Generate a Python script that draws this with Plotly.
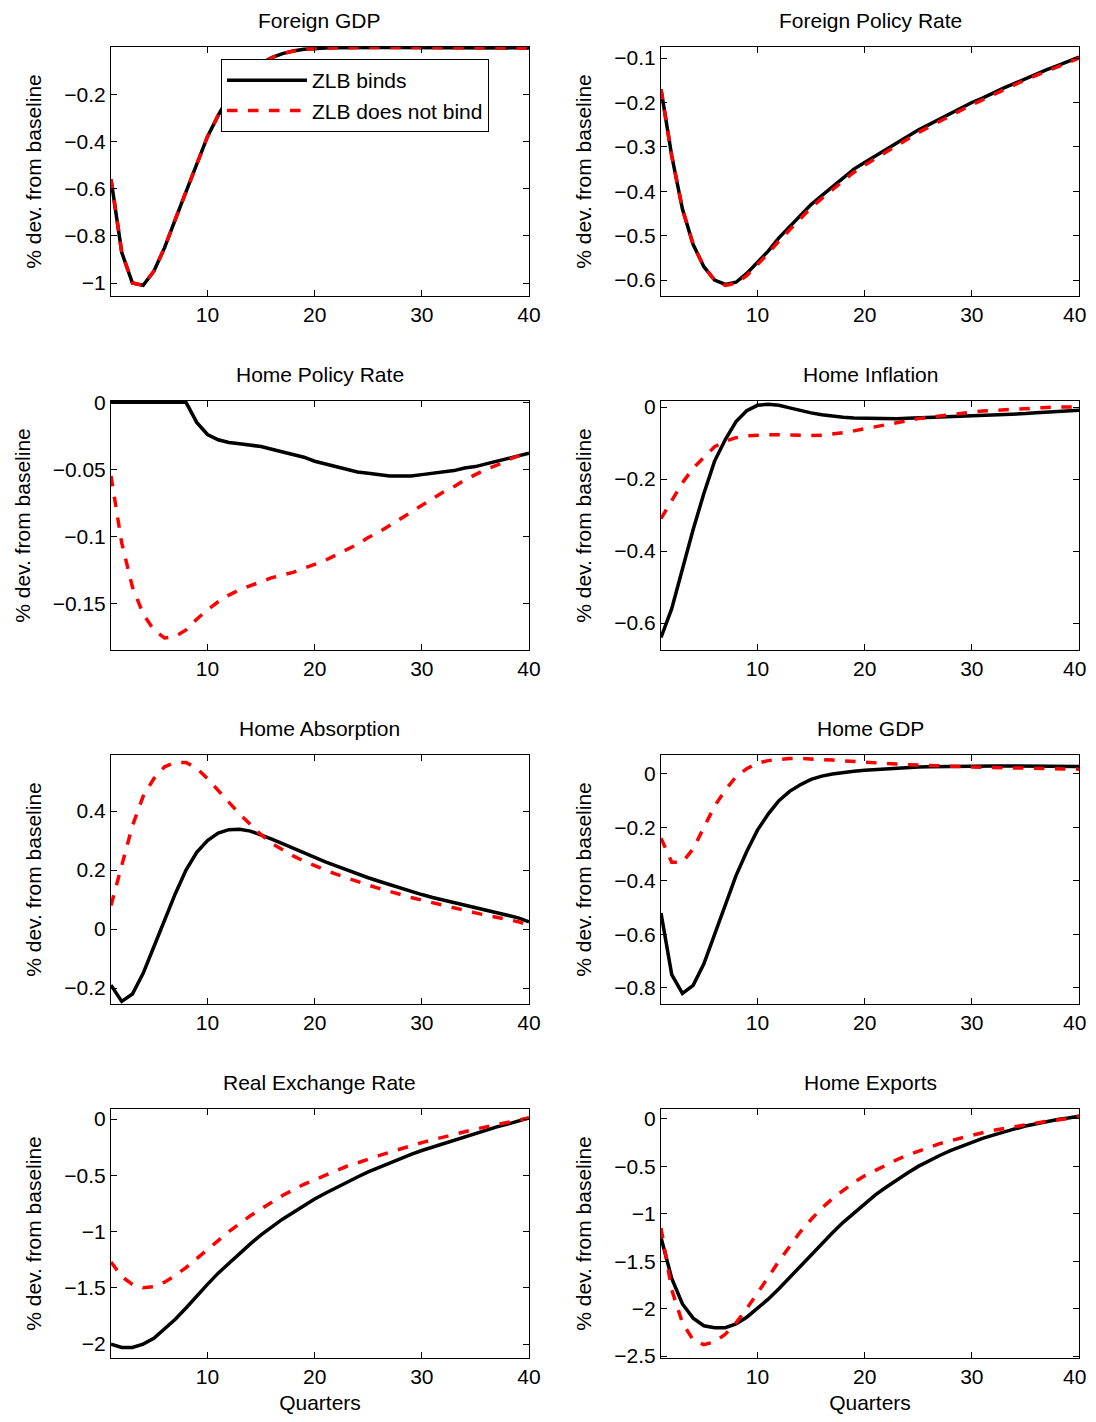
import plotly.graph_objects as go

q = list(range(1, 41))

fgdp_b = [-0.56,-0.87,-1.0,-1.01,-0.95,-0.85,-0.73,-0.61,-0.49,-0.38,-0.29,-0.21,-0.15,-0.10,-0.07,-0.045,-0.028,-0.017,-0.010,-0.006,
          -0.004,-0.003,-0.002,-0.002,-0.002,-0.002,-0.002,-0.002,-0.002,-0.002,-0.002,-0.002,-0.002,-0.003,-0.003,-0.003,-0.003,-0.004,-0.004,-0.004]
fgdp_r = fgdp_b[:]

fpr_b = [-0.17,-0.32,-0.44,-0.52,-0.57,-0.60,-0.61,-0.605,-0.585,-0.56,-0.535,-0.505,-0.48,-0.455,-0.43,-0.41,-0.39,-0.37,-0.35,-0.335,
         -0.32,-0.305,-0.29,-0.275,-0.262,-0.25,-0.237,-0.225,-0.213,-0.2,-0.19,-0.178,-0.167,-0.157,-0.146,-0.136,-0.126,-0.117,-0.108,-0.098]
fpr_r = [-0.17,-0.32,-0.44,-0.52,-0.57,-0.60,-0.612,-0.607,-0.59,-0.565,-0.54,-0.512,-0.487,-0.462,-0.437,-0.416,-0.396,-0.376,-0.357,-0.341,
         -0.326,-0.311,-0.296,-0.281,-0.268,-0.255,-0.242,-0.23,-0.218,-0.205,-0.194,-0.182,-0.171,-0.16,-0.149,-0.139,-0.129,-0.119,-0.11,-0.1]

hpr_b = [0,0,0,0,0,0,0,0,-0.015,-0.024,-0.028,-0.030,-0.031,-0.032,-0.033,-0.035,-0.037,-0.039,-0.041,-0.044,
         -0.046,-0.048,-0.050,-0.052,-0.053,-0.054,-0.055,-0.055,-0.055,-0.054,-0.053,-0.052,-0.051,-0.049,-0.048,-0.046,-0.044,-0.042,-0.040,-0.038]
hpr_r = [-0.055,-0.105,-0.138,-0.158,-0.170,-0.176,-0.175,-0.170,-0.162,-0.155,-0.149,-0.144,-0.140,-0.137,-0.134,-0.131,-0.129,-0.127,-0.124,-0.121,
         -0.118,-0.114,-0.110,-0.106,-0.101,-0.097,-0.092,-0.087,-0.082,-0.077,-0.072,-0.067,-0.063,-0.058,-0.054,-0.050,-0.047,-0.043,-0.040,-0.037]

hinf_b = [-0.64,-0.56,-0.45,-0.34,-0.24,-0.15,-0.09,-0.04,-0.01,0.005,0.008,0.005,-0.002,-0.01,-0.016,-0.021,-0.025,-0.028,-0.030,-0.031,
          -0.032,-0.032,-0.032,-0.031,-0.030,-0.029,-0.028,-0.027,-0.026,-0.025,-0.024,-0.022,-0.021,-0.019,-0.018,-0.016,-0.014,-0.012,-0.011,-0.009]
hinf_r = [-0.31,-0.26,-0.21,-0.17,-0.14,-0.11,-0.095,-0.085,-0.08,-0.078,-0.077,-0.077,-0.078,-0.079,-0.079,-0.078,-0.075,-0.071,-0.066,-0.060,
          -0.054,-0.048,-0.042,-0.037,-0.032,-0.028,-0.024,-0.020,-0.017,-0.014,-0.011,-0.009,-0.007,-0.005,-0.003,-0.002,-0.001,0,0.001,0.001]

habs_b = [-0.19,-0.245,-0.22,-0.15,-0.06,0.03,0.12,0.2,0.26,0.30,0.325,0.337,0.338,0.332,0.32,0.305,0.29,0.274,0.258,0.243,
          0.228,0.214,0.200,0.187,0.174,0.162,0.150,0.139,0.128,0.117,0.107,0.098,0.089,0.080,0.071,0.063,0.055,0.047,0.038,0.024]
habs_r = [0.08,0.22,0.35,0.45,0.51,0.55,0.565,0.565,0.545,0.51,0.47,0.43,0.39,0.355,0.32,0.29,0.268,0.248,0.23,0.214,
          0.20,0.186,0.173,0.161,0.149,0.138,0.127,0.117,0.107,0.098,0.089,0.080,0.071,0.063,0.055,0.047,0.040,0.032,0.025,0.012]

hgdp_b = [-0.52,-0.75,-0.82,-0.79,-0.71,-0.60,-0.49,-0.38,-0.29,-0.21,-0.15,-0.10,-0.065,-0.04,-0.02,-0.008,0.0,0.006,0.01,0.014,
          0.017,0.02,0.022,0.024,0.026,0.027,0.028,0.029,0.03,0.03,0.03,0.03,0.03,0.03,0.03,0.03,0.03,0.029,0.029,0.028]
hgdp_r = [-0.24,-0.33,-0.33,-0.28,-0.2,-0.12,-0.06,-0.01,0.02,0.04,0.05,0.055,0.058,0.058,0.057,0.055,0.052,0.049,0.046,0.043,
          0.041,0.039,0.037,0.035,0.033,0.031,0.029,0.028,0.027,0.026,0.025,0.024,0.023,0.022,0.021,0.021,0.02,0.019,0.019,0.018]

rer_b = [-2.0,-2.03,-2.03,-2.0,-1.95,-1.87,-1.78,-1.68,-1.57,-1.47,-1.37,-1.28,-1.19,-1.11,-1.03,-0.96,-0.89,-0.83,-0.77,-0.71,
         -0.66,-0.61,-0.56,-0.515,-0.47,-0.43,-0.39,-0.35,-0.315,-0.28,-0.25,-0.215,-0.185,-0.155,-0.125,-0.1,-0.07,-0.045,-0.02,0.01]
rer_r = [-1.27,-1.4,-1.47,-1.5,-1.49,-1.45,-1.39,-1.32,-1.24,-1.16,-1.08,-1.0,-0.93,-0.86,-0.8,-0.74,-0.68,-0.63,-0.58,-0.54,
         -0.5,-0.46,-0.42,-0.39,-0.355,-0.325,-0.295,-0.265,-0.24,-0.21,-0.185,-0.16,-0.135,-0.115,-0.09,-0.07,-0.05,-0.03,-0.01,0.01]

hexp_b = [-1.25,-1.68,-1.95,-2.1,-2.18,-2.2,-2.2,-2.16,-2.09,-2.0,-1.9,-1.79,-1.67,-1.55,-1.43,-1.31,-1.2,-1.09,-0.99,-0.89,
          -0.8,-0.72,-0.64,-0.57,-0.5,-0.44,-0.385,-0.335,-0.29,-0.245,-0.205,-0.17,-0.135,-0.105,-0.075,-0.05,-0.025,-0.005,0.01,0.03]
hexp_r = [-1.15,-1.8,-2.15,-2.33,-2.38,-2.35,-2.27,-2.15,-2.0,-1.84,-1.67,-1.5,-1.34,-1.19,-1.06,-0.94,-0.84,-0.75,-0.67,-0.6,
          -0.54,-0.48,-0.43,-0.38,-0.34,-0.3,-0.26,-0.23,-0.2,-0.17,-0.145,-0.12,-0.1,-0.08,-0.06,-0.04,-0.025,-0.01,0.005,0.03]

x_ticks = [10, 20, 30, 40]

panels = [
    ("Foreign GDP", fgdp_b, fgdp_r, [-1.055, 0.0], [-1,-0.8,-0.6,-0.4,-0.2], ["−1","−0.8","−0.6","−0.4","−0.2"]),
    ("Foreign Policy Rate", fpr_b, fpr_r, [-0.636, -0.075], [-0.6,-0.5,-0.4,-0.3,-0.2,-0.1], ["−0.6","−0.5","−0.4","−0.3","−0.2","−0.1"]),
    ("Home Policy Rate", hpr_b, hpr_r, [-0.185, 0.001], [-0.15,-0.1,-0.05,0], ["−0.15","−0.1","−0.05","0"]),
    ("Home Inflation", hinf_b, hinf_r, [-0.675, 0.017], [-0.6,-0.4,-0.2,0], ["−0.6","−0.4","−0.2","0"]),
    ("Home Absorption", habs_b, habs_r, [-0.254, 0.59], [-0.2,0,0.2,0.4], ["−0.2","0","0.2","0.4"]),
    ("Home GDP", hgdp_b, hgdp_r, [-0.86, 0.071], [-0.8,-0.6,-0.4,-0.2,0], ["−0.8","−0.6","−0.4","−0.2","0"]),
    ("Real Exchange Rate", rer_b, rer_r, [-2.124, 0.089], [-2,-1.5,-1,-0.5,0], ["−2","−1.5","−1","−0.5","0"]),
    ("Home Exports", hexp_b, hexp_r, [-2.52, 0.105], [-2.5,-2,-1.5,-1,-0.5,0], ["−2.5","−2","−1.5","−1","−0.5","0"]),
]

OFF = 8  # page body margin
W, H = 1080, 1422 - 2*OFF
def px(v): return (v - OFF) / W
def py(v): return 1 - (v - OFF) / H
xdoms = [[px(111), px(529)], [px(661), px(1079)]]
rows = [(47, 296), (401, 650), (755, 1004), (1109, 1358)]
font = dict(family="Liberation Sans, Arial", size=21, color="black")

fig = go.Figure()
ann = []
for i, (title, b, r, yr, tv, tt) in enumerate(panels):
    row, col = divmod(i, 2)
    n = i + 1
    xa = "x" if n == 1 else f"x{n}"
    ya = "y" if n == 1 else f"y{n}"
    fig.add_trace(go.Scatter(x=q, y=b, mode="lines", line=dict(color="black", width=3.5),
                             name="ZLB binds", showlegend=(i == 0), xaxis=xa, yaxis=ya))
    fig.add_trace(go.Scatter(x=q, y=r, mode="lines", line=dict(color="red", width=3.5, dash="dash"),
                             name="ZLB does not bind", showlegend=(i == 0), xaxis=xa, yaxis=ya))
    top, bot = rows[row]
    ydom = [py(bot), py(top)]
    axcommon = dict(showline=True, linecolor="black", linewidth=1, mirror="ticks", ticks="inside",
                    ticklen=6, tickcolor="black", showgrid=False, zeroline=False, tickfont=font,
                    automargin=False)
    ttxt = [str(v) for v in x_ticks]
    if col == 1:
        # last tick label would be clipped at the page edge; drawn as an annotation
        ttxt[-1] = ""
        ann.append(dict(text=str(x_ticks[-1]), x=1.0, y=py(bot + 5), xref="paper", yref="paper",
                        xanchor="right", yanchor="top", showarrow=False, font=font))
    fig.layout[("xaxis" if n == 1 else f"xaxis{n}")] = dict(
        domain=xdoms[col], range=[1, 40], tickvals=x_ticks, ticktext=ttxt, anchor=ya,
        title=dict(text="Quarters", font=font, standoff=8) if row == 3 else None, **axcommon)
    fig.layout[("yaxis" if n == 1 else f"yaxis{n}")] = dict(
        domain=ydom, range=yr, tickvals=tv, ticktext=tt, anchor=xa,
        title=dict(text="% dev. from baseline", font=font, standoff=16), **axcommon)
    ann.append(dict(text=title, x=sum(xdoms[col])/2, y=py(top - 13), xref="paper", yref="paper",
                    xanchor="center", yanchor="bottom", showarrow=False, font=font))

fig.update_layout(
    width=W, height=H, margin=dict(l=0, r=0, t=0, b=0, autoexpand=False),
    paper_bgcolor="white", plot_bgcolor="white", font=font, annotations=ann,
    legend=dict(x=px(221), y=py(59), xanchor="left", yanchor="top", bordercolor="black",
                borderwidth=1, bgcolor="white", font=font, tracegroupgap=0, itemwidth=80),
)
fig.write_html("out.html")
